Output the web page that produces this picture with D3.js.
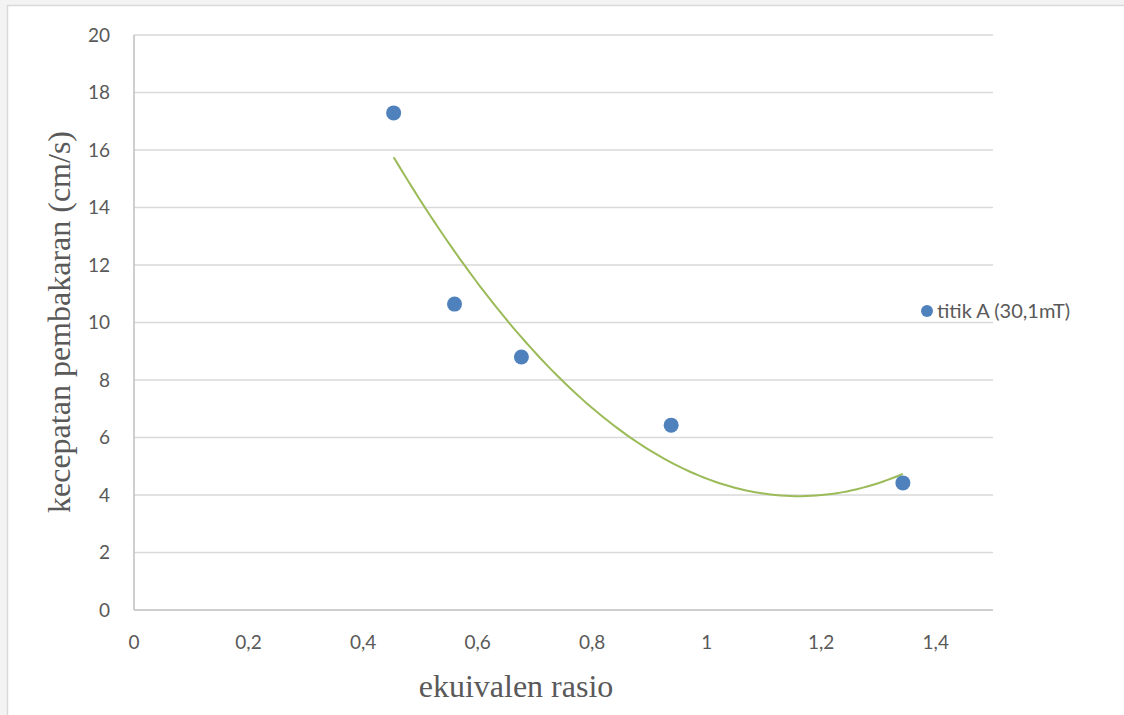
<!DOCTYPE html>
<html><head><meta charset="utf-8">
<script src="https://cdn.jsdelivr.net/npm/d3@7"></script>
<style>html,body{margin:0;padding:0;background:#f3f3f3;overflow:hidden}</style>
</head><body>
<svg id="c" width="1124" height="715"></svg>
<script>
const xValues = [0.4534, 0.5597, 0.6765, 0.938, 1.3426];
const yValues = [17.29, 10.64, 8.80, 6.43, 4.42];
const xTicks = [0, 0.2, 0.4, 0.6, 0.8, 1, 1.2, 1.4];
const yTicks = [0, 2, 4, 6, 8, 10, 12, 14, 16, 18, 20];
const seriesName = "titik A (30,1mT)";
const xTitle = "ekuivalen rasio";
const yTitle = "kecepatan pembakaran (cm/s)";

const svg = d3.select("#c");
svg.append("rect").attr("x",7.5).attr("y",5.5).attr("width",1130).attr("height",720)
  .attr("fill","#fff").attr("stroke","#d9d9d9").attr("stroke-width",1.5);

const m = {l:134, r:993, t:35, b:610};
const x = d3.scaleLinear().domain([0,1.5]).range([m.l,m.r]);
const y = d3.scaleLinear().domain([0,20]).range([m.b,m.t]);

// gridlines
svg.append("g").selectAll("line").data(yTicks.filter(d=>d>0)).join("line")
  .attr("x1",m.l).attr("x2",m.r).attr("y1",d=>y(d)).attr("y2",d=>y(d))
  .attr("stroke","#d9d9d9").attr("stroke-width",1.5);

// axes lines
svg.append("line").attr("x1",m.l).attr("x2",m.l).attr("y1",m.t).attr("y2",m.b)
  .attr("stroke","#bfbfbf").attr("stroke-width",1.5);
svg.append("line").attr("x1",m.l).attr("x2",m.r).attr("y1",m.b).attr("y2",m.b)
  .attr("stroke","#bfbfbf").attr("stroke-width",1.5);

const fmt = d => String(d).replace(".", ",");
const tickFont = "Lato, 'Noto Sans', sans-serif";
svg.append("g").selectAll("text").data(yTicks).join("text")
  .attr("x",110).attr("y",d=>y(d)).attr("dy","0.35em").attr("text-anchor","end")
  .attr("font-family",tickFont).attr("font-size",19).attr("fill","#595959").text(fmt);
svg.append("g").selectAll("text").data(xTicks).join("text")
  .attr("x",d=>x(d)).attr("y",642).attr("dy","0.35em").attr("text-anchor","middle")
  .attr("font-family",tickFont).attr("font-size",19).attr("fill","#595959").text(fmt);

// titles
svg.append("text").attr("x",516).attr("y",697).attr("text-anchor","middle")
  .attr("font-family","'Liberation Serif', 'Times New Roman', serif").attr("font-size",32)
  .attr("fill","#595959").text(xTitle);
svg.append("text").attr("transform","translate(70,322) rotate(-90)").attr("text-anchor","middle")
  .attr("font-family","'Liberation Serif', 'Times New Roman', serif").attr("font-size",32)
  .attr("fill","#595959").text(yTitle);

// polynomial (order 2) least-squares trendline from data
function polyfit2(xs, ys){
  const n = xs.length;
  let S=[0,0,0,0,0], T=[0,0,0];
  for(let i=0;i<n;i++){
    let p=1;
    for(let k=0;k<5;k++){ S[k]+=p; if(k<3) T[k]+=p*ys[i]; p*=xs[i]; }
  }
  const A=[[S[0],S[1],S[2],T[0]],[S[1],S[2],S[3],T[1]],[S[2],S[3],S[4],T[2]]];
  for(let i=0;i<3;i++){
    for(let j=i+1;j<3;j++){ const f=A[j][i]/A[i][i]; for(let k=i;k<4;k++) A[j][k]-=f*A[i][k]; }
  }
  const c=[0,0,0];
  for(let i=2;i>=0;i--){ let s=A[i][3]; for(let k=i+1;k<3;k++) s-=A[i][k]*c[k]; c[i]=s/A[i][i]; }
  return c;
}
const coef = polyfit2(xValues, yValues);
const x0 = d3.min(xValues), x1 = d3.max(xValues);
const trend = d3.range(0,101).map(i=>{ const xv = x0+(x1-x0)*i/100; return [xv, coef[0]+coef[1]*xv+coef[2]*xv*xv]; });
svg.append("path").datum(trend)
  .attr("d", d3.line().x(d=>x(d[0])).y(d=>y(d[1])))
  .attr("fill","none").attr("stroke","#9bbb59").attr("stroke-width",2);

// points
svg.append("g").selectAll("circle").data(xValues.map((d,i)=>[d,yValues[i]])).join("circle")
  .attr("cx",d=>x(d[0])).attr("cy",d=>y(d[1])).attr("r",7.5).attr("fill","#4f81bd");

// legend
svg.append("circle").attr("cx",927).attr("cy",311).attr("r",6).attr("fill","#4f81bd");
svg.append("text").attr("x",937).attr("y",311).attr("dy","0.35em")
  .attr("font-family",tickFont).attr("font-size",20).attr("fill","#595959").text(seriesName);
</script>
</body></html>
